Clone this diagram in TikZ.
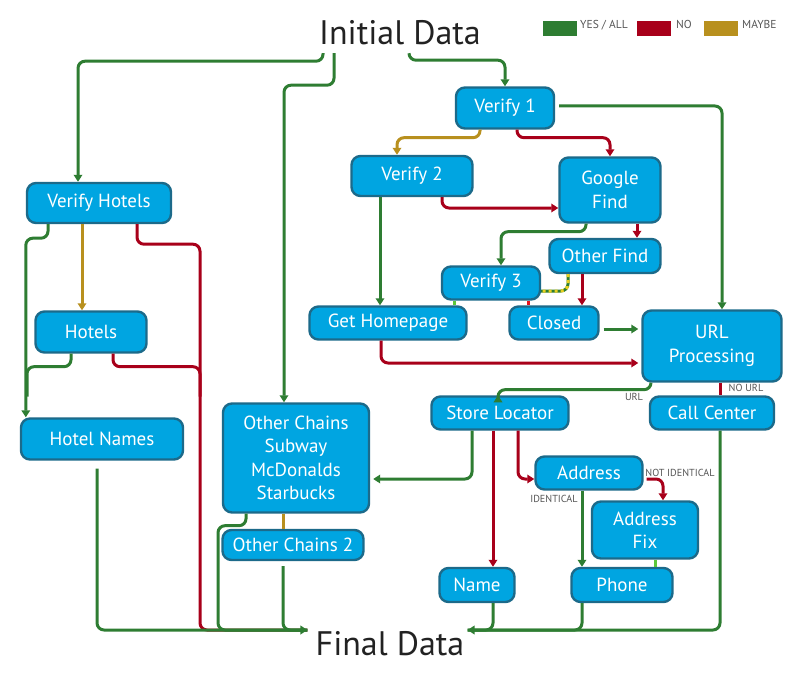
\documentclass[tikz,border=0pt]{standalone}
\usepackage{fontspec}
\setmainfont{PT Sans}
\usetikzlibrary{arrows.meta}
\definecolor{boxfill}{RGB}{0,165,225}
\definecolor{boxline}{RGB}{28,106,138}
\definecolor{yescol}{RGB}{46,125,50}
\definecolor{nocol}{RGB}{168,0,26}
\definecolor{maybecol}{RGB}{184,144,30}
\definecolor{litegreen}{RGB}{92,200,58}
\definecolor{litered}{RGB}{228,20,30}
\definecolor{dashyellow}{RGB}{232,208,32}
\definecolor{tagcol}{RGB}{85,85,85}
\definecolor{titlecol}{RGB}{34,34,34}
\begin{document}
\begin{tikzpicture}[x=1pt,y=-1pt,>={Triangle[length=7pt,width=8.5pt]},
flowblock/.style={draw=boxline,fill=boxfill,rounded corners=9pt,line width=2.4pt,text=white,inner sep=0pt,align=center,font=\fontsize{19}{23.5}\selectfont},
flowline/.style={line width=3pt,rounded corners=7pt},
yesline/.style={flowline,draw=yescol},
noline/.style={flowline,draw=nocol},
maybeline/.style={flowline,draw=maybecol},
title/.style={inner sep=0pt,text height=26pt,text depth=8pt,text=titlecol,font=\fontsize{34}{40}\selectfont},
keybox/.style={inner sep=0pt,minimum width=34pt,minimum height=15pt},
keytext/.style={anchor=north west,inner sep=0pt,text=tagcol,font=\fontsize{11.5}{12}\selectfont},
tag/.style={inner sep=0pt,text=tagcol,font=\fontsize{10.2}{11}\selectfont}]
\useasboundingbox (0,0) rectangle (804,677);

% legend
\draw (560,28.5) node[keybox,fill=yescol] (keyyes) {};
\draw (653.5,28.5) node[keybox,fill=nocol] (keyno) {};
\draw (721,28.5) node[keybox,fill=maybecol] (keymaybe) {};
\draw (580,20) node[keytext] (yeslbl) {YES / ALL};
\draw (676,20) node[keytext] (nolbl) {NO};
\draw (742,20) node[keytext] (maybelbl) {MAYBE};

\draw (400,36) node[title] (init) {Initial Data};
\draw (390,646) node[title] (final) {Final Data};

\draw (99,203) node[flowblock,minimum width=144pt,minimum height=40pt] (vhotels) {Verify Hotels};
\draw (91,332) node[flowblock,minimum width=111pt,minimum height=41pt] (hotels) {Hotels};
\draw (102,439) node[flowblock,minimum width=162pt,minimum height=41pt] (hnames) {Hotel Names};
\draw (296,458) node[flowblock,minimum width=146pt,minimum height=109pt] (chains) {Other Chains\\Subway\\McDonalds\\Starbucks};
\draw (293,545) node[flowblock,minimum width=141pt,minimum height=30pt] (chains2) {Other Chains 2};
\draw (505,108) node[flowblock,minimum width=98pt,minimum height=41pt] (ver1) {Verify 1};
\draw (412,176) node[flowblock,minimum width=121pt,minimum height=40pt] (ver2) {Verify 2};
\draw (610,190) node[flowblock,minimum width=101pt,minimum height=65pt] (gfind) {Google\\Find};
\draw (605,256) node[flowblock,minimum width=111pt,minimum height=34pt] (ofind) {Other Find};
\draw (491,283) node[flowblock,minimum width=98pt,minimum height=33pt] (ver3) {Verify 3};
\draw (388,323) node[flowblock,minimum width=157pt,minimum height=33pt] (homep) {Get Homepage};
\draw (554,323) node[flowblock,minimum width=89pt,minimum height=33pt] (closed) {Closed};
\draw (712,346) node[flowblock,minimum width=139pt,minimum height=71pt] (urlp) {URL\\Processing};
\draw (500,413) node[flowblock,minimum width=137pt,minimum height=33pt] (locator) {Store Locator};
\draw (712,413) node[flowblock,minimum width=124pt,minimum height=33pt] (callc) {Call Center};
\draw (589,473) node[flowblock,minimum width=107pt,minimum height=33pt] (addr) {Address};
\draw (645,530) node[flowblock,minimum width=106pt,minimum height=57pt] (addrfix) {Address\\Fix};
\draw (477,585) node[flowblock,minimum width=75pt,minimum height=34pt] (name) {Name};
\draw (622,585) node[flowblock,minimum width=101pt,minimum height=34pt] (phone) {Phone};

% from the initial data
\draw[yesline,->] (init.south) ++(-77,0) -- ++(0,8) -| ([xshift=-21pt]vhotels.north);
\draw[yesline,->] (init.south) ++(-66,0) -- ++(0,32) -| ([xshift=-12pt]chains.north);
\draw[yesline,->] (init.south) ++(9,0) -- ++(0,7) -| (ver1.north);

% hotel branch
\draw[noline] ([xshift=38pt]vhotels.south) |- ++(63,20) |- ([xshift=-8pt,yshift=16pt]final.west);
\draw[noline] ([xshift=22pt]hotels.south) |- ++(87,13) -- ++(0,30);
\draw[yesline,->] ([xshift=-51pt]vhotels.south) -- ++(0,14) -| ([xshift=6pt]hnames.north west);
\draw[yesline] ([xshift=-20pt]hotels.south) |- ++(-44,13) -- ++(0,30);
\draw[maybeline,->] ([xshift=-17pt]vhotels.south) -- ([xshift=-9pt]hotels.north);
\draw[yesline,->] (hnames.south) ++(-5,8) |- ([xshift=-8pt,yshift=16pt]final.west);

% other chains
\draw[yesline] ([xshift=-50pt]chains.south) |- ++(-28,12) |- ([xshift=-8pt,yshift=16pt]final.west);
\draw[maybeline] ([xshift=-13pt]chains.south) -- ([xshift=-10pt]chains2.north);
\draw[yesline] (chains2.south) ++(-10,5) |- ([xshift=-8pt,yshift=16pt]final.west);

% verify chain
\draw[maybeline,->] (ver1.south) ++(-25,0) -- ++(0,8) -| ([xshift=-15pt]ver2.north);
\draw[noline,->] (ver1.south) ++(12,0) -- ++(0,8) -| (gfind.north);
\draw[yesline,->] ([yshift=2pt]ver1.east) ++(4,0) -| ([xshift=10pt]urlp.north);
\draw[noline,->] (ver2.south) ++(30,0) |- ([yshift=-18pt]gfind.west);
\draw[yesline,->] ([xshift=-32pt]ver2.south) -- ([xshift=-8pt]homep.north);
\draw[yesline,->] (gfind.south) ++(-24,0) -- ++(0,8) -| ([xshift=10pt]ver3.north);
\draw[noline,->] ([xshift=27pt]gfind.south) -- ([xshift=32pt]ofind.north);
\draw[noline,->] ([xshift=-23pt]ofind.south) -- ([xshift=28pt]closed.north);
\draw[yesline] ([xshift=-37pt]ofind.south) |- ([yshift=-8pt]ver3.east);
\draw[flowline,draw=dashyellow,dash pattern=on 3pt off 3pt] ([xshift=-37pt]ofind.south) |- ([yshift=-8pt]ver3.east);
\draw[flowline,draw=litegreen] ([xshift=-37pt]ver3.south) -- ([xshift=66pt]homep.north);
\draw[flowline,draw=litered] ([xshift=37pt]ver3.south) -- ([xshift=-26pt]closed.north);
\draw[yesline,->] ([xshift=4pt,yshift=-6pt]closed.east) -- ([xshift=-3pt,yshift=17pt]urlp.west);
\draw[noline,->] ([xshift=-7pt]homep.south) |- ([xshift=-3pt,yshift=-17pt]urlp.west);

% url processing
\draw[yesline,->] ([xshift=-61pt]urlp.south) -- ++(0,7) -| ([xshift=-2pt]locator.north);
\draw (634,397) node[tag] (urltag) {URL};
\draw[noline] ([xshift=8pt]urlp.south) -- ([xshift=8pt]callc.north);
\draw (746,388) node[tag] (nourltag) {NO URL};
\draw[yesline,->] ([xshift=8pt]callc.south) |- ([xshift=3pt,yshift=16pt]final.east);

% store locator
\draw[yesline,->] ([xshift=-28pt]locator.south) |- ([xshift=3pt,yshift=-21pt]chains.east);
\draw[noline,->] ([xshift=-7pt]locator.south) -- ([xshift=16pt]name.north);
\draw[noline,->] ([xshift=18pt]locator.south) |- ([yshift=-6pt]addr.west);
\draw[noline,->] ([xshift=3pt,yshift=-6pt]addr.east) -| ([xshift=18pt]addrfix.north);
\draw (680,473) node[tag] (nottag) {NOT IDENTICAL};
\draw[yesline,->] ([xshift=-7pt]addr.south) -- ([xshift=-40pt]phone.north);
\draw (554,499) node[tag] (identtag) {IDENTICAL};
\draw[flowline,draw=litegreen] ([xshift=10pt]addrfix.south) -- ([xshift=33pt]phone.north);
\draw[yesline] ([xshift=16pt]name.south) |- ([xshift=3pt,yshift=16pt]final.east);
\draw[yesline] ([xshift=-40pt]phone.south) |- ([xshift=3pt,yshift=16pt]final.east);
\end{tikzpicture}
\end{document}
